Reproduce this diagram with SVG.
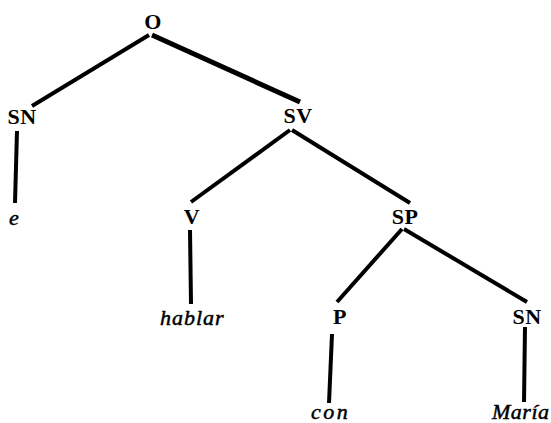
<svg xmlns="http://www.w3.org/2000/svg" width="551" height="423" viewBox="0 0 551 423">
<style>
.lbl{font-family:"Liberation Serif","Times New Roman",serif;font-weight:bold;font-size:22px;text-anchor:middle;fill:#000;letter-spacing:0.5px}
.wd{font-family:"Liberation Serif","Times New Roman",serif;font-style:italic;font-size:22px;fill:#000;stroke:#000;stroke-width:0.5}
.edge{stroke:#000;stroke-width:4;stroke-linecap:butt;fill:none}
</style>
<rect width="551" height="423" fill="#fff"/>
<g id="connectors">
<line class="edge" x1="149" y1="35" x2="32" y2="106"/>
<line class="edge" x1="152" y1="35" x2="300" y2="102" style="stroke-width:5"/>
<line class="edge" x1="17" y1="131" x2="15" y2="203"/>
<line class="edge" x1="290" y1="130" x2="191" y2="202"/>
<line class="edge" x1="292" y1="130" x2="410" y2="203"/>
<line class="edge" x1="190" y1="230" x2="191" y2="304"/>
<line class="edge" x1="402" y1="229" x2="337" y2="302"/>
<line class="edge" x1="404" y1="229" x2="527" y2="302"/>
<line class="edge" x1="332" y1="334" x2="329" y2="403"/>
<line class="edge" x1="525" y1="327" x2="524" y2="402"/>
</g>
<g id="O"><text class="lbl" x="153" y="29">O</text></g>
<g id="SN1"><text class="lbl" x="22" y="124">SN</text></g>
<g id="e"><text class="wd" x="9" y="225">e</text></g>
<g id="SV"><text class="lbl" x="298" y="123">SV</text></g>
<g id="V"><text class="lbl" x="192" y="224">V</text></g>
<g id="hablar"><text class="wd" x="160" y="325" letter-spacing="1">hablar</text></g>
<g id="SP"><text class="lbl" x="405" y="224">SP</text></g>
<g id="P"><text class="lbl" x="340" y="324">P</text></g>
<g id="SN2"><text class="lbl" x="527" y="324">SN</text></g>
<g id="con"><text class="wd" x="311" y="419" letter-spacing="2.5">con</text></g>
<g id="Maria"><text class="wd" x="492" y="419" letter-spacing="0.5">María</text></g>
</svg>
